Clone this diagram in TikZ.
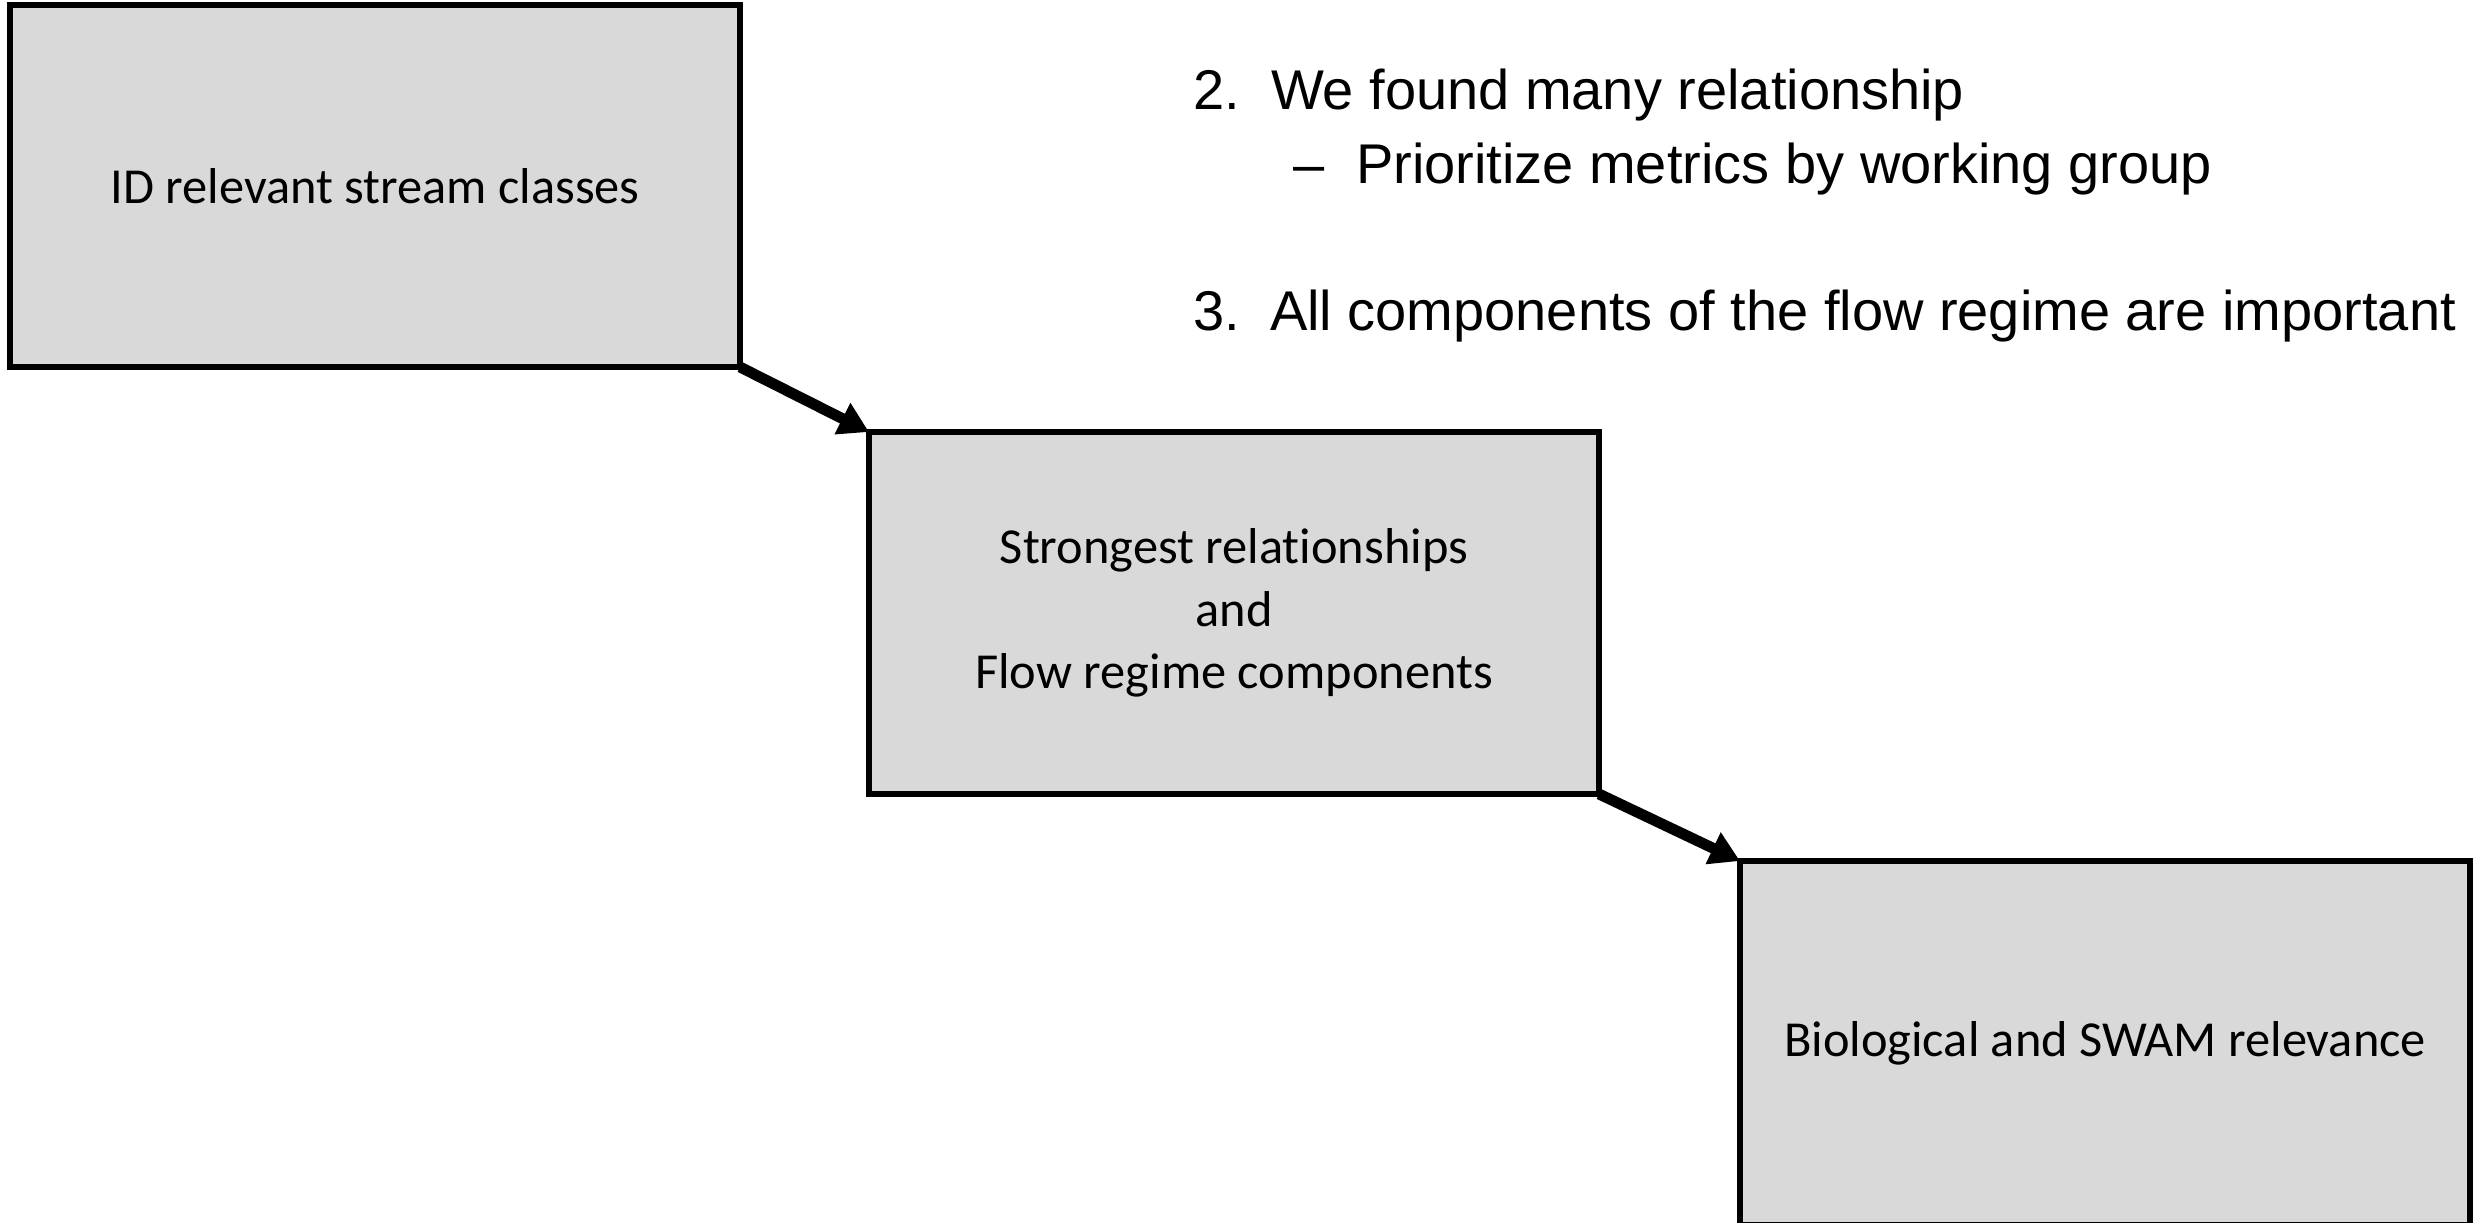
\documentclass[tikz,border=0pt]{standalone}
\usepackage{fontspec}
\usetikzlibrary{arrows.meta}
\newfontfamily\boxfont[Ligatures=NoCommon]{Carlito}
\newfontfamily\listfont{Liberation Sans}
\definecolor{boxgray}{HTML}{D9D9D9}
\begin{document}
\begin{tikzpicture}[x=0.28571pt, y=-0.28571pt,
  stagebox/.style={draw=black, fill=boxgray, line width=1.7pt, inner sep=0pt, outer sep=0pt,
    minimum width=208.57pt, minimum height=103.43pt, align=center,
    font={\boxfont\fontsize{14.4pt}{17.8pt}\selectfont}},
  flowarrow/.style={line width=3.1pt, -{Triangle[length=8.5pt, width=9.5pt]}},
  listtext/.style={anchor=base west, inner sep=0pt, outer sep=0pt,
    font={\listfont\fontsize{16pt}{19pt}\selectfont}}]
\useasboundingbox (0,0) rectangle (2481,1222);
\fill[white] (0,0) rectangle (2481,1222);
\node[stagebox] (s1) at (375,186) {ID relevant stream classes};
\node[stagebox] (s2) at (1234,613) {Strongest relationships\\and\\Flow regime components};
\node[stagebox, minimum height=104pt] (s3) at (2105,1043) {Biological and SWAM relevance};
\draw[flowarrow] (s1.south east) -- (s2.north west);
\draw[flowarrow] (s2.south east) -- (s3.north west);
\node[listtext] (n2) at (1193,109) {2.};
\node[listtext] (t2) at (1271,109) {We found many relationship};
\node[listtext] (d2) at (1293,183) {–};
\node[listtext] (t2a) at (1356,183) {Prioritize metrics by working group};
\node[listtext] (n3) at (1193,330) {3.};
\node[listtext] (t3) at (1270,330) {All components of the flow regime are important};
\end{tikzpicture}
\end{document}
